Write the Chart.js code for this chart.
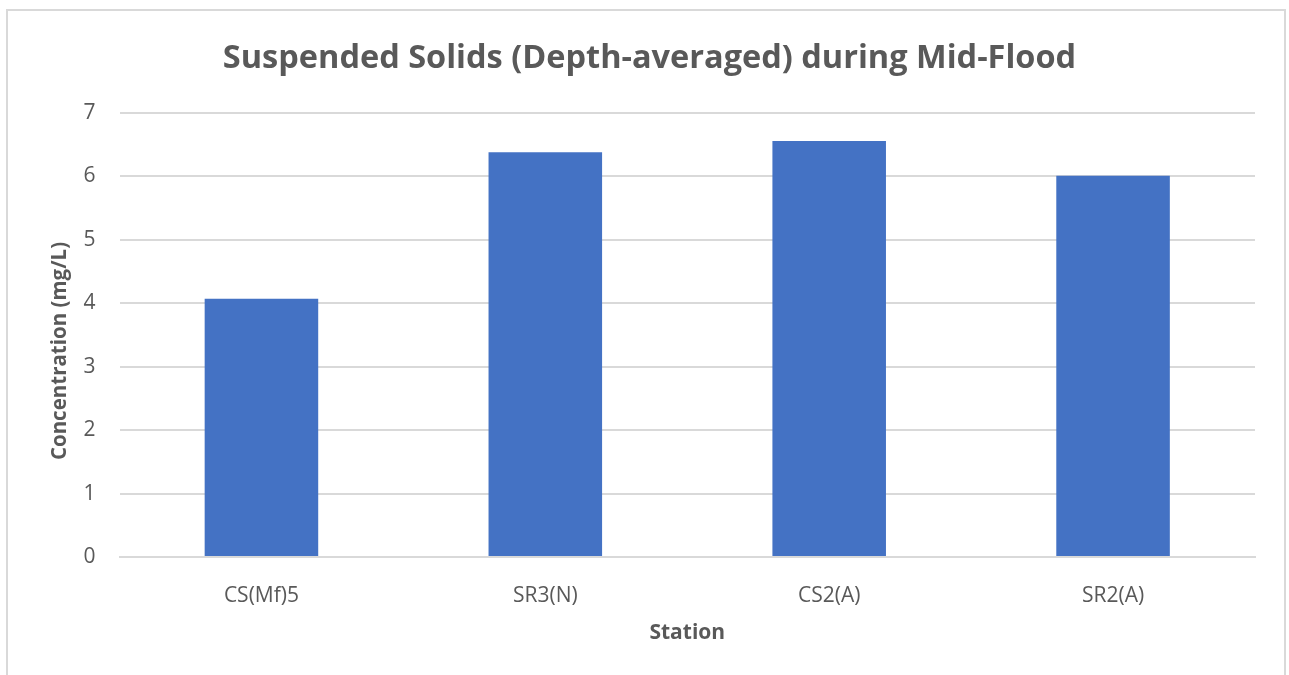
<!DOCTYPE html>
<html>
<head>
<meta charset="utf-8">
<script src="https://cdn.jsdelivr.net/npm/chart.js@4/dist/chart.umd.min.js"></script>
<style>
  html, body { margin: 0; padding: 0; background: #ffffff; }
  #wrap { position: relative; width: 1289px; height: 675px; overflow: hidden; }
  #frame { position: absolute; left: 6px; top: 9px; width: 1280px; height: 700px;
           border: 2px solid #d9d9d9; box-sizing: border-box; pointer-events: none; }
  canvas { position: absolute; left: 0; top: 0; }
</style>
</head>
<body>
<div id="wrap">
  <canvas id="chart" width="1289" height="675"></canvas>
  <div id="frame"></div>
</div>
<script>
// Station names along the x axis
const stations = ["CS(Mf)5", "SR3(N)", "CS2(A)", "SR2(A)"];
// Depth-averaged suspended solids, mg/L
const concentration = [4.07, 6.38, 6.56, 6.01];
// Y axis range and step
const yTicks = [0, 1, 2, 3, 4, 5, 6, 7];
const yAxisTitle = "Concentration (mg/L)";

const textGrey = "#595959";
const fontFamily = "'Open Sans', 'Liberation Sans', sans-serif";

// Vertical axis title, drawn a little below the middle of the plot
const yTitlePlugin = {
  id: "yTitle",
  afterDraw(chart) {
    const { ctx, chartArea } = chart;
    ctx.save();
    ctx.translate(60, (chartArea.top + chartArea.bottom) / 2 + 16);
    ctx.rotate(-Math.PI / 2);
    ctx.fillStyle = textGrey;
    ctx.font = "bold 20.5px " + fontFamily;
    ctx.textAlign = "center";
    ctx.textBaseline = "middle";
    ctx.fillText(yAxisTitle, 0, 0);
    ctx.restore();
  }
};

new Chart(document.getElementById("chart"), {
  type: "bar",
  data: {
    labels: stations,
    datasets: [{
      label: "Suspended Solids",
      data: concentration,
      backgroundColor: "#4472c4",
      borderWidth: 0,
      categoryPercentage: 1.0,
      barPercentage: 0.4
    }]
  },
  options: {
    responsive: false,
    animation: false,
    layout: { padding: { left: 44, right: 34, top: 24, bottom: 29 } },
    plugins: {
      legend: { display: false },
      tooltip: { enabled: false },
      title: {
        display: true,
        text: "Suspended Solids (Depth-averaged) during Mid-Flood",
        color: textGrey,
        font: { family: fontFamily, size: 32.5, weight: "bold" },
        padding: { top: 15, bottom: 35 }
      }
    },
    scales: {
      x: {
        grid: { display: false },
        border: { display: true, color: "#d9d9d9", width: 2 },
        ticks: { color: textGrey, font: { family: fontFamily, size: 21 }, padding: 18 },
        afterFit: (axis) => { axis.height = 89; },
        title: {
          display: true, text: "Station", color: textGrey,
          font: { family: fontFamily, size: 21, weight: "bold" },
          padding: { top: 0, bottom: 0 }
        }
      },
      y: {
        min: yTicks[0],
        max: yTicks[yTicks.length - 1],
        grid: { color: "#d9d9d9", lineWidth: 2, drawTicks: false },
        border: { display: false },
        afterBuildTicks: (axis) => { axis.ticks = yTicks.map(v => ({ value: v })); },
        afterFit: (axis) => { axis.width = 75.5; },
        ticks: { color: textGrey, font: { family: fontFamily, size: 21 }, padding: 24 }
      }
    }
  },
  plugins: [yTitlePlugin]
});
</script>
</body>
</html>
